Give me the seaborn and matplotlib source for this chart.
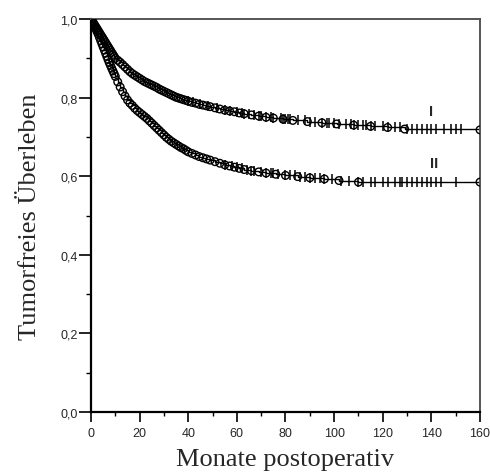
import numpy as np
import pandas as pd
import matplotlib
matplotlib.use("Agg")
import matplotlib.pyplot as plt
from matplotlib import font_manager as fm
from matplotlib.ticker import MultipleLocator, FuncFormatter
import seaborn as sns

# ---- data ----
t1 = [0, 0.5, 1, 1.5, 2, 2.5, 3, 3.5, 4, 4.5, 5, 5.5, 6, 6.5, 7, 7.5, 8, 8.5, 9, 9.5,
      10, 11, 12, 13, 14, 15, 16, 17, 18, 19, 20, 21, 22, 23, 24, 25, 26, 27, 28, 29, 30,
      31, 32, 33, 34, 35, 36, 37, 38, 39, 40,
      41.5, 43, 44.5, 46, 47.5, 49,
      51, 53, 55, 57, 59, 61, 63,
      66, 69, 72, 75,
      79, 83, 89, 95, 101, 108, 115, 122, 129,
      160]
s1 = [1.0, 0.995, 0.99, 0.985, 0.98, 0.975, 0.97, 0.965, 0.96, 0.955, 0.95, 0.945, 0.94,
      0.935, 0.93, 0.925, 0.92, 0.915, 0.91, 0.905,
      0.90, 0.895, 0.89, 0.884, 0.878, 0.872, 0.866, 0.861, 0.857, 0.853, 0.849,
      0.845, 0.841, 0.838, 0.835, 0.832, 0.829, 0.826, 0.822, 0.819, 0.816,
      0.813, 0.81, 0.807, 0.804, 0.801, 0.799, 0.797, 0.795, 0.793, 0.791,
      0.788, 0.786, 0.783, 0.781, 0.779, 0.777,
      0.774, 0.771, 0.768, 0.766, 0.764, 0.761, 0.759,
      0.756, 0.753, 0.75, 0.748,
      0.745, 0.742, 0.739, 0.736, 0.733, 0.73, 0.727, 0.724, 0.72,
      0.718]

t2 = [0, 0.5, 1, 1.5, 2, 2.5, 3, 3.5, 4, 4.5, 5, 5.5, 6, 6.5, 7, 7.5, 8, 8.5, 9, 9.5,
      10, 11, 12, 13, 14, 15, 16, 17, 18, 19, 20, 21, 22, 23, 24, 25, 26, 27, 28, 29, 30,
      31, 32, 33, 34, 35, 36, 37, 38, 39, 40,
      41.5, 43, 44.5, 46, 47.5, 49,
      51, 53, 55, 57, 59, 61, 63,
      66, 69, 72, 76,
      80, 85, 90, 96, 102, 110,
      160]
s2 = [1.0, 0.994, 0.988, 0.982, 0.975, 0.968, 0.961, 0.953, 0.945, 0.937, 0.929, 0.921,
      0.913, 0.905, 0.897, 0.889, 0.882, 0.875, 0.868, 0.861,
      0.854, 0.84, 0.827, 0.815, 0.804, 0.794, 0.786,
      0.78, 0.773, 0.767, 0.762, 0.757, 0.752, 0.747, 0.741, 0.735, 0.729, 0.723, 0.717,
      0.711, 0.705, 0.699, 0.694, 0.689, 0.685, 0.681, 0.677, 0.673, 0.67, 0.666, 0.662,
      0.658, 0.654, 0.65, 0.647, 0.644, 0.641,
      0.637, 0.633, 0.629, 0.626, 0.623, 0.62, 0.617,
      0.614, 0.611, 0.608, 0.605,
      0.602, 0.599, 0.596, 0.593, 0.589, 0.585,
      0.585]

cens1 = [40, 42, 45, 48, 52, 55, 57, 60, 62, 63, 65, 67, 69, 70, 72, 74, 75, 78, 79, 80, 81, 82,
         85, 88, 90, 92, 95, 97, 98, 100, 102, 105, 107, 108, 110, 112, 113, 115, 117, 120, 122,
         125, 127, 130, 132, 134, 136, 138, 140, 142, 145, 148, 150, 152]
cens2 = [55, 58, 60, 62, 64, 66, 67, 70, 72, 74, 75, 77, 80, 82, 84, 86, 88, 90, 92, 94, 96, 99,
         103, 106, 110, 112, 115, 117, 120, 122, 125, 127, 128, 130, 132, 134, 136, 138, 140,
         142, 144, 150]

group_labels = ["I", "II"]
label_pos_t = [140, 141]
label_pos_s = [0.765, 0.633]

xticks = [0, 20, 40, 60, 80, 100, 120, 140, 160]
yticks = [0.0, 0.2, 0.4, 0.6, 0.8, 1.0]

assert len(t1) == len(s1) and len(t2) == len(s2)

# ---- build tables ----
ev = pd.concat([
    pd.DataFrame({"t": t1, "s": s1, "g": "I"}),
    pd.DataFrame({"t": t2, "s": s2, "g": "II"}),
], ignore_index=True)

def step_val(tt, ss, c):
    idx = np.searchsorted(np.asarray(tt), np.asarray(c), side="right") - 1
    return np.asarray(ss)[idx]

cens = pd.concat([
    pd.DataFrame({"t": cens1, "s": step_val(t1, s1, cens1), "g": "I"}),
    pd.DataFrame({"t": cens2, "s": step_val(t2, s2, cens2), "g": "II"}),
], ignore_index=True)

# ---- fonts ----
def font_file(name, fallback_family):
    for f in fm.findSystemFonts():
        if f.endswith(name):
            return f
    return fm.findfont(fm.FontProperties(family=fallback_family))

sans_reg = font_file("LiberationSans-Regular.ttf", "DejaVu Sans")
sans_bold = font_file("LiberationSans-Bold.ttf", "DejaVu Sans")
serif_reg = font_file("LiberationSerif-Regular.ttf", "DejaVu Serif")

sns.set_style("white")
plt.rcParams["font.family"] = ["Liberation Sans", "DejaVu Sans"]

fig = plt.figure(figsize=(4.9, 4.77), dpi=100)
ax = fig.add_axes([0.1857, 0.1342, 0.7939, 0.8238])

for g in group_labels:
    d = ev[ev.g == g]
    sns.lineplot(data=d, x="t", y="s", ax=ax, color="black", lw=1.0,
                 drawstyle="steps-post", estimator=None, sort=False)
sns.scatterplot(data=ev, x="t", y="s", ax=ax, marker="o", s=30,
                facecolor="none", edgecolor="black", linewidth=1.0, zorder=3)
sns.scatterplot(data=cens, x="t", y="s", ax=ax, marker="|", s=45,
                color="black", linewidth=1.1, zorder=3)

for lab, tx, sy in zip(group_labels, label_pos_t, label_pos_s):
    ax.text(tx, sy, lab, ha="center", va="center",
            fontproperties=fm.FontProperties(fname=sans_bold, size=10.5))

ax.set_xlim(0, 160)
ax.set_ylim(0, 1.0)
ax.set_xticks(xticks)
ax.set_yticks(yticks)
ax.xaxis.set_minor_locator(MultipleLocator(10))
ax.yaxis.set_minor_locator(MultipleLocator(0.1))
ax.yaxis.set_major_formatter(FuncFormatter(lambda v, p: f"{v:.1f}".replace(".", ",")))
ax.xaxis.set_major_formatter(FuncFormatter(lambda v, p: f"{int(round(v))}"))
ax.tick_params(axis="y", which="major", direction="out", length=8.5, width=1.2,
               left=True, color="black", pad=1)
ax.tick_params(axis="y", which="minor", direction="out", length=3.5, width=1.0,
               left=True, color="black")
ax.tick_params(axis="x", which="major", direction="out", length=7, width=1.2,
               bottom=True, color="black", pad=4)
ax.tick_params(axis="x", which="minor", direction="out", length=3, width=1.0,
               bottom=True, color="black")
tick_fp = fm.FontProperties(fname=sans_reg, size=9)
for lbl in ax.get_xticklabels() + ax.get_yticklabels():
    lbl.set_fontproperties(tick_fp)

for sp in ["left", "bottom"]:
    ax.spines[sp].set_color("black")
    ax.spines[sp].set_linewidth(1.6)
for sp in ["top", "right"]:
    ax.spines[sp].set_color("#555555")
    ax.spines[sp].set_linewidth(1.4)

lab_fp = fm.FontProperties(fname=serif_reg, size=19)
ax.set_xlabel("Monate postoperativ", fontproperties=lab_fp, labelpad=6)
ax.set_ylabel("Tumorfreies Überleben", fontproperties=lab_fp, labelpad=14)

fig.savefig("out.png", dpi=100)
